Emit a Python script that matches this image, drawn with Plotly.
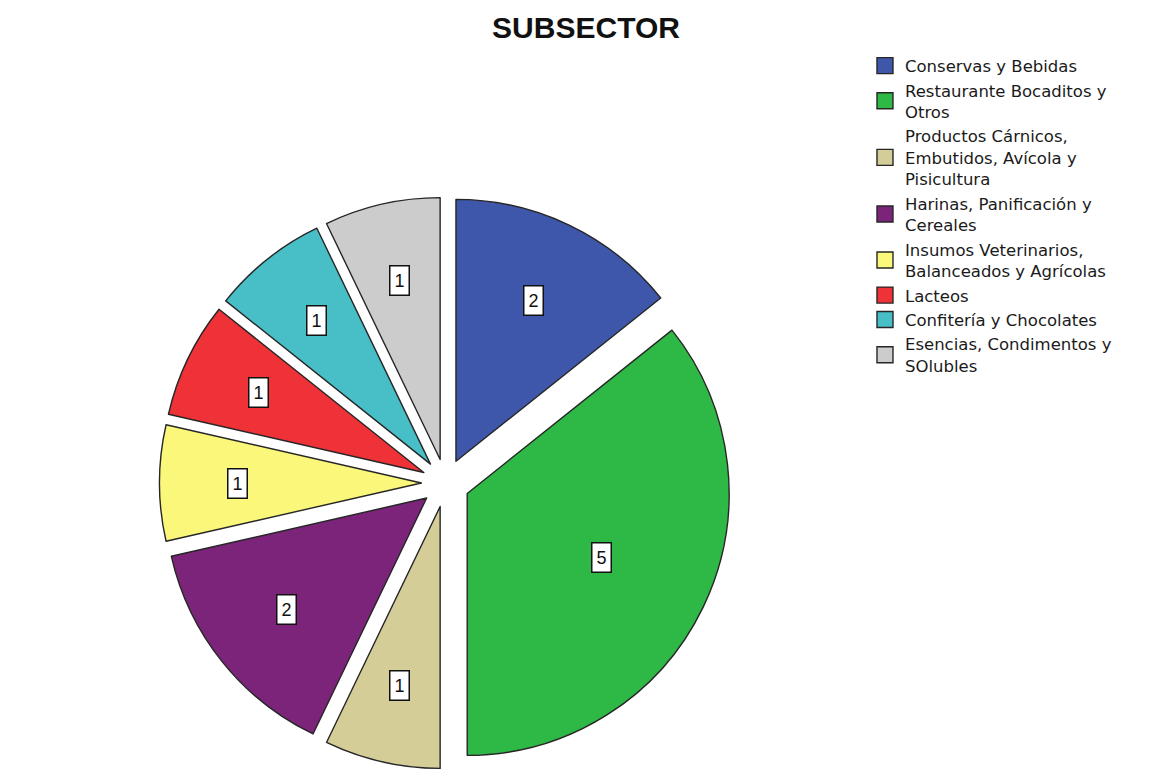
import math
import plotly.graph_objects as go

# page has an 8px body margin, so the figure is slightly smaller than the window
W, H = 1148, 762

labels = [
    "Conservas y Bebidas",
    "Restaurante Bocaditos y<br>Otros",
    "Productos Cárnicos,<br>Embutidos, Avícola y<br>Pisicultura",
    "Harinas, Panificación y<br>Cereales",
    "Insumos Veterinarios,<br>Balanceados y Agrícolas",
    "Lacteos",
    "Confitería y Chocolates",
    "Esencias, Condimentos y<br>SOlubles",
]
values = [2, 5, 1, 2, 1, 1, 1, 1]
colors = ["#3f57aa", "#2eb846", "#d4cd98", "#7b2479", "#fbf77a", "#ee3237", "#48bfc6", "#cccccc"]

PULL = 0.092
dom_x = [151.5 / W, 723.5 / W]
dom_y = [1 - 761 / H, 1 - 189 / H]

fig = go.Figure()
fig.add_trace(go.Pie(
    labels=labels,
    values=values,
    sort=False,
    direction="clockwise",
    rotation=0,
    pull=PULL,
    textinfo="none",
    hoverinfo="label+value",
    marker=dict(colors=colors, line=dict(color="#262626", width=1.4)),
    domain=dict(x=dom_x, y=dom_y),
    showlegend=False,
))

# legend entries with larger square swatches
for lab, col in zip(labels, colors):
    fig.add_trace(go.Scatter(
        x=[None], y=[None], mode="markers", name=lab,
        marker=dict(symbol="square", size=16, color=col,
                    line=dict(color="#262626", width=1.4)),
        hoverinfo="skip",
    ))

# value labels (boxed) placed at slice centroids, derived from the data
cx = (dom_x[0] + dom_x[1]) / 2 * W
cy = (1 - (dom_y[0] + dom_y[1]) / 2) * H
size = min((dom_x[1] - dom_x[0]) * W, (dom_y[1] - dom_y[0]) * H)
R = size / (2 * (1 + PULL))
total = sum(values)
cum = 0
annotations = []
for v in values:
    theta = 2 * math.pi * (cum + v / 2) / total
    alpha = math.pi * v / total
    d = 2 * R * math.sin(alpha) / (3 * alpha) * 1.06 + PULL * R
    px = cx + d * math.sin(theta)
    py = cy - d * math.cos(theta)
    annotations.append(dict(
        x=px / W, y=1 - py / H, xref="paper", yref="paper",
        text=str(v), showarrow=False,
        font=dict(family="Liberation Sans, Arial, sans-serif", size=18, color="#111111"),
        bgcolor="white", bordercolor="#111111", borderwidth=1.5, borderpad=2,
        width=14, height=24, xanchor="center", yanchor="middle",
    ))
    cum += v

fig.update_layout(
    width=W, height=H,
    margin=dict(l=0, r=0, t=0, b=0),
    paper_bgcolor="white",
    plot_bgcolor="white",
    xaxis=dict(visible=False),
    yaxis=dict(visible=False),
    title=dict(
        text="<b>SUBSECTOR</b>",
        x=0.5035, xanchor="center",
        y=0.974, yanchor="middle", yref="container",
        font=dict(family="Liberation Sans, Arial, sans-serif", size=30, color="#111111"),
    ),
    legend=dict(
        x=0.7465, xanchor="left",
        y=0.947, yanchor="top",
        font=dict(family="DejaVu Sans, Liberation Sans, sans-serif", size=16.5, color="#1a1a1a"),
        tracegroupgap=0,
        itemsizing="trace",
        valign="middle",
        traceorder="normal",
    ),
    annotations=annotations,
    showlegend=True,
)

fig.write_html("out.html")
